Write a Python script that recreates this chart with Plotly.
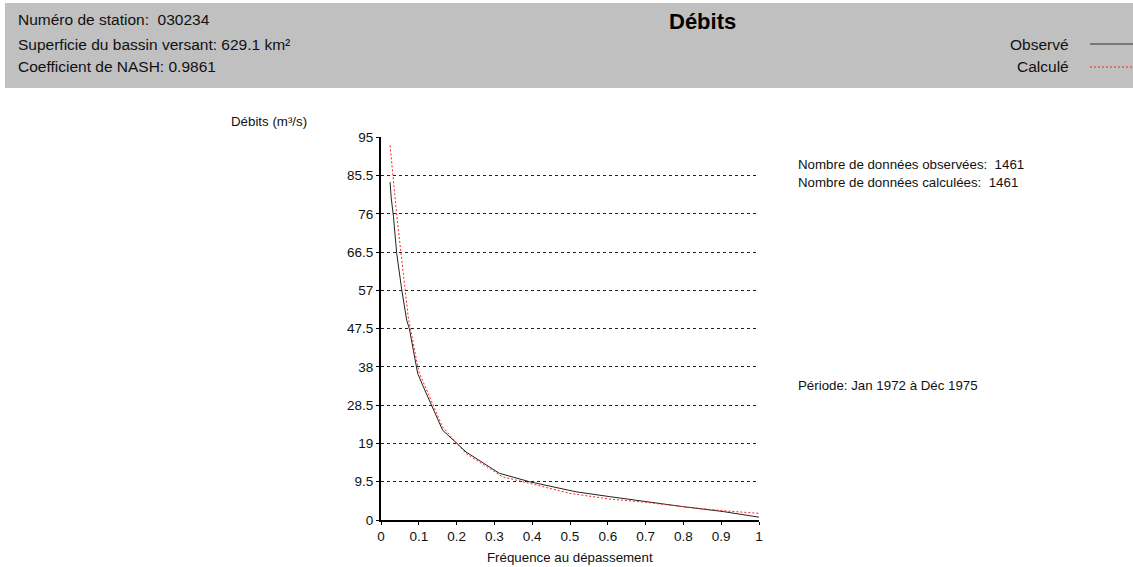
import plotly.graph_objects as go

# Courbe des débits classés (fréquence au dépassement)
freq_obs = [0.024, 0.027, 0.033, 0.0415, 0.055, 0.068, 0.075, 0.097, 0.11, 0.163,
            0.225, 0.313, 0.393, 0.516, 0.605, 0.70, 0.80, 0.905, 1.0]
debit_obs = [83.9, 80.0, 75.3, 66.2, 57.1, 49.6, 47.5, 36.4, 33.5, 22.3,
             16.9, 11.6, 9.5, 7.0, 5.8, 4.5, 3.3, 2.1, 0.7]

freq_calc = [0.024, 0.033, 0.042, 0.053, 0.064, 0.072, 0.10, 0.163, 0.225, 0.322,
             0.393, 0.5, 0.605, 0.70, 0.80, 0.905, 1.0]
debit_calc = [93.0, 84.0, 75.3, 66.2, 57.1, 50.4, 36.8, 23.1, 16.5, 10.7,
              9.1, 6.6, 5.2, 4.4, 3.3, 2.3, 1.65]

y_ticks = [0, 9.5, 19, 28.5, 38, 47.5, 57, 66.5, 76, 85.5, 95]
x_ticks = [0, 0.1, 0.2, 0.3, 0.4, 0.5, 0.6, 0.7, 0.8, 0.9, 1]
x_labels = ["0", "0.1", "0.2", "0.3", "0.4", "0.5", "0.6", "0.7", "0.8", "0.9", "1"]

W, H = 1133, 567
L, R, T, B = 381, 374, 137, 47


def px(x):
    return (x - L) / (W - L - R)


def py(y):
    return (H - B - y) / (H - T - B)


font = "Liberation Sans, Arial, sans-serif"

fig = go.Figure()
fig.add_trace(go.Scatter(x=freq_obs, y=debit_obs, mode="lines", name="Observé",
                         line=dict(color="#222222", width=1)))
fig.add_trace(go.Scatter(x=freq_calc, y=debit_calc, mode="lines", name="Calculé",
                         line=dict(color="#ff2020", width=1, dash="2px,2px")))

# header box
fig.add_shape(type="rect", xref="paper", yref="paper",
              x0=px(5), x1=px(1140), y0=py(3), y1=py(88),
              fillcolor="#c0c0c0", line=dict(width=0), layer="below")
# legend lines
fig.add_shape(type="line", xref="paper", yref="paper",
              x0=px(1090), x1=px(1140), y0=py(44), y1=py(44),
              line=dict(color="#333333", width=1))
fig.add_shape(type="line", xref="paper", yref="paper",
              x0=px(1090), x1=px(1140), y0=py(67), y1=py(67),
              line=dict(color="#ff2020", width=1, dash="2px,2px"))

notes = [
    (16, 20, "Numéro de station:&nbsp; 030234", "left", 15.5),
    (16, 44, "Superficie du bassin versant: 629.1 km²", "left", 15.5),
    (16, 67, "Coefficient de NASH: 0.9861", "left", 15.5),
    (1071, 44, "Observé", "right", 15.5),
    (1071, 67, "Calculé", "right", 15.5),
    (796, 164, "Nombre de données observées:&nbsp; 1461", "left", 13.3),
    (796, 182, "Nombre de données calculées:&nbsp; 1461", "left", 13.3),
    (796, 385, "Période: Jan 1972 à Déc 1975", "left", 13.3),
    (309, 121, "Débits (m³/s)", "right", 13.3),
    (570, 557, "Fréquence au dépassement", "center", 13.3),
]
for x, y, txt, anchor, size in notes:
    fig.add_annotation(x=px(x), y=py(y), xref="paper", yref="paper", text=txt,
                       showarrow=False, xanchor=anchor, yanchor="middle",
                       font=dict(size=size, color="#111111", family=font))

fig.add_annotation(x=px(702), y=py(22), xref="paper", yref="paper",
                   text="<b>Débits</b>", showarrow=False, xanchor="center",
                   yanchor="middle", font=dict(size=22, color="#000000", family=font))

fig.update_layout(
    width=W, height=H,
    margin=dict(l=L, r=R, t=T, b=B),
    paper_bgcolor="white", plot_bgcolor="white",
    showlegend=False,
    font=dict(family=font, size=13.5, color="#111111"),
    xaxis=dict(range=[0, 1], tickvals=x_ticks, ticktext=x_labels,
               showgrid=False, zeroline=False, showline=True,
               linecolor="black", linewidth=2, ticks="outside", ticklen=3,
               tickcolor="black"),
    yaxis=dict(range=[0, 95.1], tickvals=y_ticks,
               showgrid=True, gridcolor="#222222", griddash="3px,3px", gridwidth=1,
               zeroline=False, showline=True, linecolor="black", linewidth=2,
               ticks="outside", ticklen=3, tickcolor="black"),
)

fig.write_html("out.html", config={"displayModeBar": False},
               post_script="document.body.style.margin='0';")
